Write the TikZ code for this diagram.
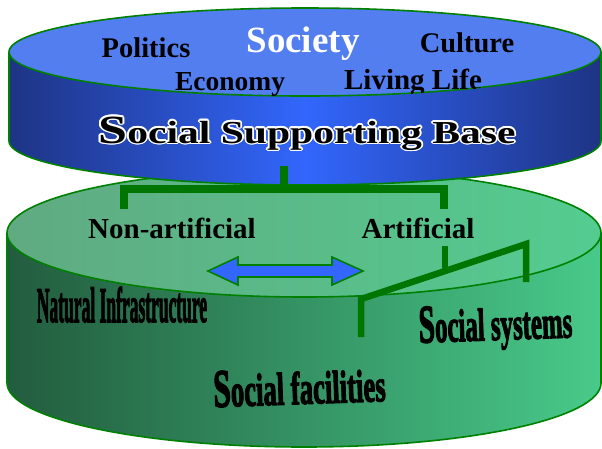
\documentclass[tikz,border=0pt]{standalone}
\usepackage{fontspec}
\setmainfont{Liberation Serif}
\newfontface\warpfont[FakeBold=3]{Liberation Serif Bold}
\usepackage{graphicx}
\usepackage[copies]{contour}
\contourlength{1.3pt}

\definecolor{rimgreen}{RGB}{0,128,0}
\definecolor{treegreen}{RGB}{0,118,0}
\definecolor{lidblue}{RGB}{82,126,240}
\definecolor{darkblue}{RGB}{30,52,132}
\definecolor{brightblue}{RGB}{50,102,252}
\definecolor{arrowblue}{RGB}{51,102,255}
\definecolor{lidgreenL}{RGB}{96,170,130}
\definecolor{lidgreenR}{RGB}{84,204,144}
\definecolor{sidegreenL}{RGB}{34,92,62}
\definecolor{sidegreenR}{RGB}{72,202,138}

\newcommand{\squeezed}[3]{\scalebox{#1}[1]{\fontsize{#2}{#2}\warpfont #3}}

\begin{document}
\begin{tikzpicture}[x=1pt, y=1pt,
    rim/.style={draw=rimgreen, line width=1.6pt},
    branch/.style={draw=treegreen, line width=8.5pt},
    twig/.style={draw=treegreen, line width=6.5pt},
    lidtext/.style={font=\bfseries\fontsize{28.5}{30}\selectfont, anchor=base, inner sep=0pt},
    warptext/.style={anchor=base, inner sep=0pt}]
    \useasboundingbox (0,0) rectangle (602,-448);

    % lower cylinder
    \shade[left color=sidegreenL, right color=sidegreenR] (7,-233) -- (7,-383)
        arc[start angle=180, end angle=360, x radius=297pt, y radius=64pt] -- (601,-233) -- cycle;
    \draw[rim] (7,-233) -- (7,-383)
        arc[start angle=180, end angle=360, x radius=297pt, y radius=64pt] -- (601,-233);
    \shade[left color=lidgreenL, right color=lidgreenR] (304,-233) ellipse [x radius=297pt, y radius=64pt];
    \draw[rim] (304,-233) ellipse [x radius=297pt, y radius=64pt];

    \node[lidtext, font=\bfseries\fontsize{29}{30}\selectfont] (nonart) at (172,-238) {Non-artificial};
    \node[lidtext, font=\bfseries\fontsize{29}{30}\selectfont] (art) at (418,-238) {Artificial};

    \draw[draw=rimgreen, line width=1.6pt, fill=arrowblue, line join=miter]
        (208,-271) -- (238,-257) -- (238,-265) -- (332,-265) -- (332,-257) -- (363,-271)
        -- (332,-285) -- (332,-277) -- (238,-277) -- (238,-285) -- cycle;

    \coordinate (artfoot) at (445,-246);
    \coordinate (artjoin) at (445,-271);
    \coordinate (slantL) at (361,-299);
    \coordinate (slantR) at (526,-244);
    \coordinate (facfoot) at (361,-337);
    \coordinate (sysfoot) at (526,-282);
    \draw[twig] (artfoot) -- (artjoin);
    \draw[twig] (facfoot) -- (slantL) -- (slantR) -- (sysfoot);

    \node[warptext] (natinf) at (122,-322) {\squeezed{0.35}{50}{Natural Infrastructure}};
    \node[warptext, rotate=2] (facil) at (300,-404) {\squeezed{0.58}{46}{{\fontsize{54}{54}\selectfont S}ocial facilities}};
    \node[warptext, rotate=2] (systems) at (496,-340) {\squeezed{0.54}{46}{{\fontsize{54}{54}\selectfont S}ocial systems}};

    % upper cylinder
    \shade[left color=darkblue, right color=darkblue, middle color=brightblue] (9,-52) -- (9,-141)
        arc[start angle=180, end angle=360, x radius=296pt, y radius=44pt] -- (601,-52) -- cycle;
    \draw[rim] (9,-52) -- (9,-141)
        arc[start angle=180, end angle=360, x radius=296pt, y radius=44pt] -- (601,-52);
    \fill[lidblue] (305,-52) ellipse [x radius=296pt, y radius=44pt];
    \draw[rim] (305,-52) ellipse [x radius=296pt, y radius=44pt];

    \begin{scope}
        \clip (305,-52) ellipse [x radius=296pt, y radius=44pt];
        \node[lidtext] (politics) at (146,-57) {Politics};
        \node[lidtext, text=white, font=\bfseries\fontsize{37}{38}\selectfont] (society) at (303,-52) {Society};
        \node[lidtext] (culture) at (467,-52) {Culture};
        \node[lidtext, font=\bfseries\fontsize{27.5}{30}\selectfont] (economy) at (230,-90) {Economy};
        \node[lidtext, font=\bfseries\fontsize{29}{30}\selectfont] (living) at (413,-89) {Living Life};
    \end{scope}

    \node[warptext] (base) at (307,-143) {\scalebox{1.3}[1]{\fontsize{32}{32}\selectfont\bfseries
        \contour{white}{{\fontsize{40}{40}\selectfont S}ocial Supporting Base}}};

    % tree
    \coordinate (stem) at (284,-166);
    \coordinate (fork) at (284,-189);
    \coordinate (forkL) at (124,-189);
    \coordinate (forkR) at (444,-189);
    \coordinate (leafL) at (124,-209);
    \coordinate (leafR) at (444,-209);
    \draw[branch] (stem) -- (fork);
    \draw[branch] (leafL) -- (forkL) -- (forkR) -- (leafR);
\end{tikzpicture}
\end{document}
